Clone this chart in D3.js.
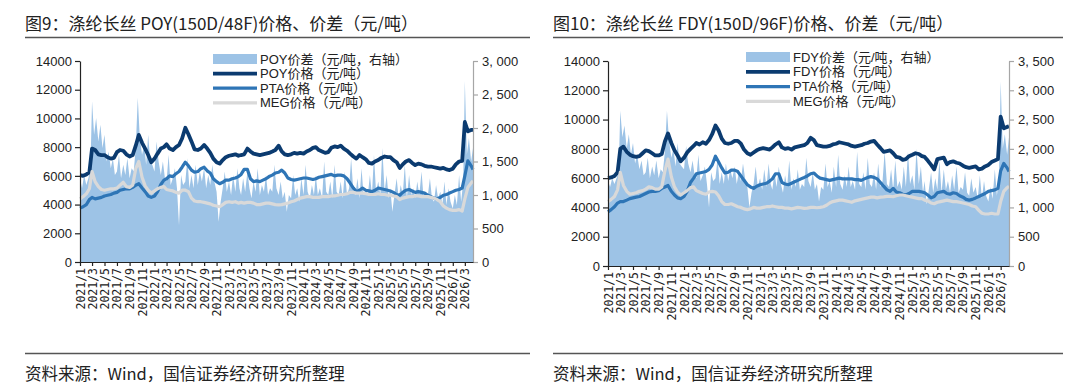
<!DOCTYPE html>
<html>
<head>
<meta charset="utf-8">
<script src="https://cdn.jsdelivr.net/npm/d3@7"></script>
<style>
  body { margin: 0; background: #fff; }
  svg text { font-family: "Noto Sans CJK SC", sans-serif; fill: #222; }
  .num text { font-family: "Liberation Sans", Arial, sans-serif; }
  .xax text { font-family: "DejaVu Sans Mono", monospace; }
  .legend text { font-family: "Liberation Sans", "Noto Sans CJK SC", sans-serif; }
</style>
</head>
<body>
<svg id="chart" width="1080" height="384"></svg>
<script>
// half-month prices (1st and 16th of each month, then 2026/4/1, 2026/4/10)
const poyPrice = [
  6050, 6000, 6100, 6250, 7900, 7800, 7500, 7450, 7450, 7300, 7200, 7250, 7650, 7800, 7750, 7500, 7350, 7450, 8100, 8850, 8300, 7900, 7450, 6950,
  7200, 7550, 7900, 8000, 8200, 7900, 7800, 8000, 8150, 8600, 9350, 8900, 8400, 7850, 7800, 7900, 8150, 7900, 7600, 7200, 6950, 6850, 7100, 7300,
  7400, 7450, 7500, 7400, 7450, 7500, 7900, 7700, 7550, 7500, 7450, 7500, 7550, 7600, 7700, 7800, 8100, 7700, 7500, 7450, 7500, 7600, 7550, 7600,
  7550, 7700, 7800, 7950, 8000, 7800, 7700, 7600, 7650, 7950, 8050, 8000, 8100, 7900, 7750, 7550, 7350, 7200, 7450, 7300, 7150, 6900, 6850, 7000,
  7100, 7250, 7350, 7300, 7300, 7100, 6950, 6550, 6800, 7000, 7100, 6900, 6750, 6850, 6800, 6700, 6650, 6650, 6600, 6550, 6500, 6550, 6450, 6400,
  6500, 6800, 7000, 7050, 9750, 9100, 9200, 9200
];
const ptaPriceL = [
  3750, 3850, 4000, 4350, 4500, 4400, 4450, 4500, 4600, 4650, 4700, 4800, 4850, 5000, 5050, 5100, 5100, 5200, 5350, 5450, 5150, 4900, 4600, 4500,
  4600, 4900, 5400, 5700, 5800, 6000, 5950, 6150, 6300, 6600, 6950, 6700, 6400, 6250, 6300, 6500, 6600, 6350, 6200, 5800, 5600, 5450, 5550, 5700,
  5700, 5800, 5850, 5950, 6100, 6450, 6450, 5800, 5600, 5650, 5600, 5700, 5800, 5950, 6050, 6200, 6250, 6400, 6200, 5850, 5750, 5700, 5750, 5800,
  5850, 5850, 5800, 5750, 5800, 5900, 5950, 6000, 6050, 6100, 6000, 6050, 6050, 6000, 5800, 5500, 5150, 4900, 5000, 5150, 5000, 4950, 4900, 5000,
  5150, 5100, 5050, 5000, 4950, 4850, 4700, 4650, 4850, 5000, 5050, 4950, 4850, 4900, 4850, 4800, 4650, 4550, 4450, 4400, 4500, 4650, 4700, 4800,
  4900, 5000, 5050, 5150, 6000, 7050, 6700, 6450
];
const megPriceL = [
  4400, 4550, 4750, 5100, 6300, 5600, 5250, 5050, 5000, 5050, 5100, 5100, 5150, 5350, 5550, 5250, 5200, 5350, 6500, 7000, 5900, 5300, 5000, 4800,
  4950, 5100, 5200, 5250, 5050, 5000, 4950, 4850, 4800, 5000, 5000, 4900, 4450, 4250, 4200, 4200, 4150, 4100, 4050, 3950, 3900, 3850, 4000, 4150,
  4200, 4150, 4200, 4100, 4150, 4100, 4150, 4150, 4100, 4000, 4000, 4050, 4100, 4100, 4050, 4000, 3980, 4000, 4050, 4100, 4200, 4250, 4350, 4450,
  4500, 4550, 4550, 4500, 4500, 4500, 4550, 4550, 4550, 4600, 4600, 4650, 4700, 4700, 4750, 4850, 4850, 4800, 4800, 4800, 4750, 4700, 4700, 4700,
  4750, 4700, 4700, 4650, 4650, 4600, 4550, 4350, 4450, 4500, 4550, 4550, 4600, 4600, 4550, 4550, 4550, 4500, 4450, 4350, 4200, 3900, 3750, 3650,
  3600, 3600, 3650, 3550, 4400, 5200, 5500, 5650
];
const fdyPrice = [
  6000, 6050, 6150, 6400, 8000, 8150, 7800, 7600, 7500, 7450, 7500, 7700, 7900, 7850, 7700, 7550, 7550, 7650, 8500, 9050, 8400, 7900, 7550, 7150,
  7400, 7750, 8000, 8200, 8400, 8300, 8450, 8350, 8600, 9000, 9600, 9250, 8700, 8400, 8350, 8400, 8550, 8550, 8350, 7950, 7700, 7600, 7750, 7900,
  8000, 8050, 8000, 7950, 8100, 8300, 8450, 8100, 8000, 8050, 7950, 8100, 8150, 8200, 8250, 8400, 8750, 8600, 8250, 8200, 8150, 8150, 8200, 8300,
  8350, 8450, 8400, 8350, 8300, 8200, 8150, 8200, 8250, 8350, 8400, 8500, 8550, 8300, 8050, 7800, 7850, 7900, 7700, 7450, 7400, 7250, 7300, 7500,
  7600, 7700, 7650, 7500, 7450, 7200, 6900, 6600, 7300, 7350, 7400, 6950, 7100, 7150, 7050, 7000, 6850, 6750, 6700, 6750, 6800, 6600, 6650, 6800,
  6900, 7100, 7200, 7300, 10200, 9400, 9500, 9550
];
const ptaPriceR = [
  3700, 3850, 4050, 4300, 4400, 4400, 4500, 4600, 4650, 4700, 4750, 4850, 4950, 5050, 5100, 5100, 5150, 5300, 5400, 5500, 5100, 4850, 4650, 4600,
  4750, 5100, 5700, 6000, 6300, 6350, 6400, 6450, 6600, 6900, 7500, 7100, 6700, 6350, 6400, 6550, 6550, 6450, 6150, 5850, 5550, 5400, 5300, 5450,
  5550, 5600, 5650, 5800, 5950, 6300, 6300, 5700, 5600, 5550, 5650, 5750, 5850, 5950, 6050, 6150, 6300, 6350, 6150, 6000, 5950, 5900, 5850, 5900,
  5950, 6000, 5950, 5950, 5950, 5950, 5900, 5900, 5850, 5950, 6050, 6100, 6050, 5950, 5700, 5450, 5200, 5100, 5300, 5050, 5000, 4900, 4850, 4950,
  5100, 5100, 5100, 5050, 5000, 4850, 4650, 4750, 5000, 5050, 5100, 4950, 4900, 5000, 4950, 4800, 4700, 4550, 4500, 4550, 4650, 4750, 4850, 4950,
  5100, 5150, 5200, 5300, 6500, 7000, 6700, 6450
];
const megPriceR = [
  4400, 4550, 4750, 5200, 6400, 5500, 5100, 4900, 4950, 5000, 5100, 5150, 5250, 5400, 5350, 5250, 5250, 5400, 6500, 7300, 6100, 5400, 5050, 4850,
  5000, 5150, 5350, 5400, 5150, 5050, 4950, 4900, 5050, 5100, 5050, 4800, 4400, 4200, 4200, 4250, 4150, 4050, 4000, 3900, 3850, 3900, 4000, 3950,
  3950, 4000, 4050, 4050, 4100, 4050, 4000, 4000, 3950, 3950, 3900, 3950, 4000, 3980, 3940, 3950, 4000, 4000, 3980, 4000, 4050, 4150, 4300, 4400,
  4450, 4500, 4500, 4450, 4400, 4350, 4450, 4500, 4550, 4600, 4650, 4700, 4700, 4650, 4700, 4720, 4750, 4750, 4730, 4800, 4850, 4850, 4800, 4750,
  4700, 4650, 4600, 4600, 4500, 4450, 4300, 4250, 4350, 4400, 4450, 4500, 4450, 4400, 4400, 4350, 4300, 4250, 4200, 4100, 4050, 3800, 3600, 3550,
  3550, 3600, 3550, 3550, 4400, 5100, 5350, 5450
];

// spreads, right axis (1st, 11th, 21st of each month, then 2026/4/1, 2026/4/10)
const poySpread = [
  1250, 1100, 1300, 1150, 1250, 1400, 2400, 1900, 2150, 1800, 2050, 1700, 1900, 1500, 1650, 1400, 1550, 1300, 1350, 1600, 1250, 1450, 1300, 1550, 1250, 1400, 1350, 1700, 2450, 1850, 1600, 1750, 1450, 1900, 1500, 1450,
  1350, 1800, 1500, 1300, 1500, 1250, 1200, 1600, 1150, 1250, 1400, 1100, 550, 1300, 1150, 1200, 1550, 1100, 1300, 1100, 1450, 1150, 1350, 1200, 1400, 1100, 1300, 1150, 1450, 1200, 1050, 600, 900, 1100, 1350, 1050,
  1200, 1000, 1300, 1050, 1400, 1100, 1000, 1250, 1050, 1350, 1100, 950, 1200, 1050, 1400, 1000, 1150, 1050, 1300, 1000, 1100, 1050, 1450, 1100, 1000, 1200, 950, 1050, 750, 1000, 950, 1300, 1000, 1100, 900, 1250,
  1000, 1450, 1050, 950, 1150, 1000, 1300, 1000, 1100, 950, 1500, 1050, 1000, 1200, 950, 1450, 1050, 1000, 1200, 950, 1350, 1000, 1100, 1550, 1050, 1000, 1250, 950, 1400, 1000, 1100, 1000, 1300, 1000, 1600, 1050,
  1200, 1000, 1700, 1050, 1300, 950, 1100, 750, 1000, 1250, 950, 1150, 1000, 1450, 950, 1300, 1000, 1100, 950, 1200, 1000, 1350, 950, 1050, 1000, 1250, 950, 900, 1150, 950, 1050, 850, 1200, 850, 1100, 900,
  800, 1000, 850, 1300, 900, 1200, 2700, 1600, 1850, 1500, 1700
];
const fdySpread = [
  1450, 1350, 1500, 1400, 1500, 1600, 2650, 2200, 2400, 2000, 2250, 1900, 2100, 1750, 1900, 1650, 1800, 1550, 1600, 1850, 1500, 1700, 1550, 1800, 1500, 1650, 1600, 1950, 2650, 2150, 1850, 2000, 1700, 2100, 1750, 1700,
  1650, 2050, 1750, 1600, 1800, 1550, 1500, 1900, 1450, 1550, 1700, 1400, 1000, 1600, 1450, 1500, 1850, 1400, 1600, 1400, 1750, 1450, 1650, 1500, 1700, 1400, 1600, 1450, 1750, 1500, 1350, 1000, 1250, 1400, 1700, 1350,
  1500, 1300, 1650, 1350, 1750, 1400, 1300, 1600, 1350, 1700, 1400, 1250, 1550, 1350, 1800, 1300, 1500, 1350, 1650, 1300, 1400, 1350, 1850, 1450, 1350, 1600, 1300, 1400, 1100, 1350, 1300, 1750, 1350, 1450, 1250, 1700,
  1350, 1900, 1400, 1300, 1550, 1350, 1700, 1350, 1450, 1300, 1950, 1400, 1350, 1600, 1300, 1850, 1400, 1350, 1600, 1300, 1750, 1350, 1450, 1950, 1400, 1350, 1650, 1300, 1800, 1350, 1450, 1300, 1700, 1350, 1950, 1400,
  1550, 1300, 2000, 1400, 1700, 1250, 1450, 1050, 1300, 1600, 1250, 1500, 1300, 1800, 1250, 1650, 1300, 1450, 1250, 1550, 1300, 1700, 1250, 1350, 1300, 1600, 1250, 1200, 1500, 1250, 1350, 1150, 1550, 1150, 1450, 1200,
  1100, 1350, 1150, 1650, 1200, 1550, 3150, 2000, 2250, 1900, 2200
];

const leftTicks = [0, 2000, 4000, 6000, 8000, 10000, 12000, 14000];
const spreadTicksL = [0, 500, 1000, 1500, 2000, 2500, 3000];
const spreadTicksR = [0, 500, 1000, 1500, 2000, 2500, 3000, 3500];

function buildDates(days) {
  let out = [];
  for (let y = 2021; y <= 2026; y++) {
    for (let m = 0; m < 12; m++) {
      if (y === 2026 && m > 2) break;
      for (let d of days) out.push(new Date(y, m, d));
    }
  }
  out.push(new Date(2026, 3, 1), new Date(2026, 3, 10));
  return out;
}
const halfDates = buildDates([1, 16]);
const dekadDates = buildDates([1, 11, 21]);

const colors = {area: '#9dc3e6', main: '#0b3b70', pta: '#2e75b6', meg: '#d9d9d9'};

let svg = d3.select('#chart');

function drawPanel(p) {
  let g = svg.append('g');

  // title + rules
  g.append('text').attr('x', p.textX).attr('y', 30)
    .attr('font-size', 17).text(p.title);
  g.append('line').attr('x1', p.textX).attr('x2', p.ruleEnd)
    .attr('y1', 37.5).attr('y2', 37.5).attr('stroke', '#555').attr('stroke-width', 1.5);
  g.append('line').attr('x1', p.textX).attr('x2', p.ruleEnd)
    .attr('y1', 353.5).attr('y2', 353.5).attr('stroke', '#555').attr('stroke-width', 1.5);
  g.append('text').attr('x', p.textX).attr('y', 380)
    .attr('font-size', 16.5).text('资料来源：Wind，国信证券经济研究所整理');

  let x = d3.scaleTime()
    .domain([new Date(2021, 0, 1), new Date(2026, 3, 10)])
    .range([p.left, p.right]);
  let y = d3.scaleLinear().domain([0, 14000]).range([p.bottom, p.top]);
  let y2 = d3.scaleLinear().domain([0, p.spreadMax]).range([p.bottom, p.top]);

  let spread = dekadDates.map((d, i) => ({date: d, v: p.spread[i]}));
  g.append('path')
    .datum(spread)
    .attr('fill', colors.area)
    .attr('d', d3.area().x(d => x(d.date)).y0(p.bottom).y1(d => y2(d.v)));

  let line = d3.line().x(d => x(d.date)).y(d => y(d.v));
  let series = [
    {vals: p.main, color: colors.main, w: 3.8},
    {vals: p.pta, color: colors.pta, w: 3.2},
    {vals: p.meg, color: colors.meg, w: 3.2}
  ];
  series.forEach(s => {
    g.append('path')
      .datum(halfDates.map((d, i) => ({date: d, v: s.vals[i]})))
      .attr('fill', 'none')
      .attr('stroke', s.color)
      .attr('stroke-width', s.w)
      .attr('stroke-linejoin', 'round')
      .attr('d', line);
  });

  // left axis
  let ax = g.append('g').attr('class', 'num')
    .attr('transform', 'translate(' + p.left + ',0)')
    .call(d3.axisLeft(y).tickValues(leftTicks).tickFormat(d3.format('d'))
      .tickSize(5).tickSizeOuter(0).tickPadding(3));
  ax.selectAll('text').attr('font-size', 13).attr('fill', '#222');
  ax.selectAll('line, path').attr('stroke', '#222').attr('stroke-width', 1.2);

  // right axis
  let fmt = v => d3.format(',')(v).replace(',', ', ');
  let ax2 = g.append('g').attr('class', 'num')
    .attr('transform', 'translate(' + p.right + ',0)')
    .call(d3.axisRight(y2).tickValues(p.spreadTicks).tickFormat(fmt).tickSize(5).tickSizeOuter(0).tickPadding(4));
  ax2.selectAll('text').attr('font-size', 13).attr('fill', '#222');
  ax2.selectAll('line, path').attr('stroke', '#a6a6a6').attr('stroke-width', 1.2);

  // x axis
  let ax3 = g.append('g').attr('class', 'xax')
    .attr('transform', 'translate(0,' + p.bottom + ')')
    .call(d3.axisBottom(x).ticks(d3.timeMonth.every(2)).tickFormat(d3.timeFormat('%Y/%-m'))
      .tickSize(4).tickSizeOuter(0));
  ax3.selectAll('line, path').attr('stroke', '#222').attr('stroke-width', 1.2);
  ax3.selectAll('text')
    .attr('font-size', 11.5).attr('fill', '#222')
    .attr('text-anchor', 'end')
    .attr('transform', 'translate(0,6) rotate(-90)')
    .attr('x', 0).attr('y', 0).attr('dy', '0.35em');

  // legend
  let items = [
    {label: p.names[0], kind: 'area', color: colors.area},
    {label: p.names[1], kind: 'line', color: colors.main, w: 3.8},
    {label: p.names[2], kind: 'line', color: colors.pta, w: 3.2},
    {label: p.names[3], kind: 'line', color: colors.meg, w: 3.2}
  ];
  let lg = g.append('g').attr('class', 'legend');
  items.forEach((it, i) => {
    let cy = p.legendY + i * p.legendStep;
    if (it.kind === 'area') {
      lg.append('rect').attr('x', p.legendX).attr('y', cy - 5).attr('width', 44).attr('height', 10)
        .attr('fill', it.color);
    } else {
      lg.append('line').attr('x1', p.legendX).attr('x2', p.legendX + 44)
        .attr('y1', cy).attr('y2', cy).attr('stroke', it.color).attr('stroke-width', it.w);
    }
    lg.append('text').attr('x', p.legendX + 47).attr('y', cy + 4.5)
      .attr('font-size', 13).text(it.label);
  });
}

drawPanel({
  title: '图9：涤纶长丝 POY(150D/48F)价格、价差（元/吨）',
  names: ['POY价差（元/吨，右轴）', 'POY价格（元/吨）', 'PTA价格（元/吨）', 'MEG价格（元/吨）'],
  main: poyPrice, pta: ptaPriceL, meg: megPriceL, spread: poySpread,
  spreadMax: 3000, spreadTicks: spreadTicksL,
  textX: 25, ruleEnd: 530,
  left: 80, right: 473, top: 61, bottom: 262,
  legendX: 213, legendY: 59, legendStep: 14.6
});

drawPanel({
  title: '图10：涤纶长丝 FDY(150D/96F)价格、价差（元/吨）',
  names: ['FDY价差（元/吨，右轴）', 'FDY价格（元/吨）', 'PTA价格（元/吨）', 'MEG价格（元/吨）'],
  main: fdyPrice, pta: ptaPriceR, meg: megPriceR, spread: fdySpread,
  spreadMax: 3500, spreadTicks: spreadTicksR,
  textX: 553, ruleEnd: 1063,
  left: 608, right: 1009, top: 61, bottom: 266,
  legendX: 746, legendY: 57, legendStep: 14.8
});
</script>
</body>
</html>
